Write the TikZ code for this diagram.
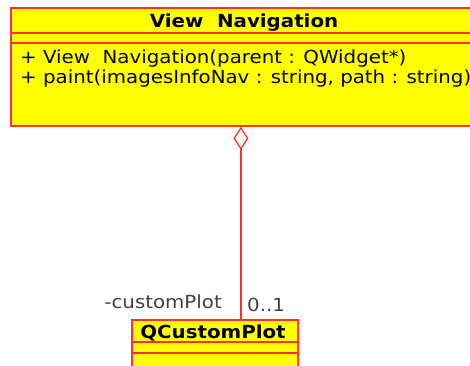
\documentclass[tikz,border=0pt]{standalone}
\usepackage{fontspec}
\setmainfont{DejaVu Sans}[FakeStretch=1.1]
\usetikzlibrary{arrows.meta}
\definecolor{umlred}{RGB}{255,48,48}
\definecolor{umlyellow}{RGB}{255,255,0}
\tikzset{
  classbox/.style={draw=umlred, fill=umlyellow, line width=1.8pt, rectangle, inner sep=0pt, anchor=north west},
  classline/.style={draw=umlred, line width=1.8pt},
  txt/.style={inner sep=0pt, font=\fontsize{18}{20}\selectfont},
  ttl/.style={inner sep=0pt, font=\fontsize{18}{20}\selectfont\bfseries},
  assoc/.style={draw=umlred, line width=1.3pt, {Diamond[open, fill=white, length=23pt, width=15pt]}-},
}
\begin{document}
\begin{tikzpicture}[x=1pt, y=-1pt]
\path[use as bounding box] (0,0) rectangle (470,365);
\clip (0,0) rectangle (470,365);
% View Navigation class
\node[classbox, minimum width=468pt, minimum height=118pt] (vn) at (10,7) {};
\draw[classline] ([yshift=-26pt]vn.north west) -- ([yshift=-26pt]vn.north east);
\draw[classline] ([yshift=-36pt]vn.north west) -- ([yshift=-36pt]vn.north east);
\node[ttl, anchor=base] (vnt) at (244,27) {View\ \ Navigation};
\node[txt, anchor=base west] (op1) at (20,63) {+ View\ \ Navigation(parent : QWidget*)};
\node[txt, anchor=base west] (op2) at (20,83) {+ paint(imagesInfoNav : string, path : string)};
% QCustomPlot class
\node[classbox, minimum width=166pt, minimum height=60pt] (qcp) at (131,319) {};
\draw[classline] ([yshift=-23pt]qcp.north west) -- ([yshift=-23pt]qcp.north east);
\draw[classline] ([yshift=-34pt]qcp.north west) -- ([yshift=-34pt]qcp.north east);
\node[ttl, anchor=base] (qct) at (213,338) {QCustomPlot};
% association
\coordinate (qtop) at ([xshift=26pt]qcp.north);
\draw[assoc] (qtop |- vn.south) -- (qtop);
\node[txt, anchor=base east, text=black!75] (role) at (222,308) {-customPlot};
\node[txt, anchor=base west, text=black!75] (mult) at (247,311) {0..1};
\end{tikzpicture}
\end{document}
